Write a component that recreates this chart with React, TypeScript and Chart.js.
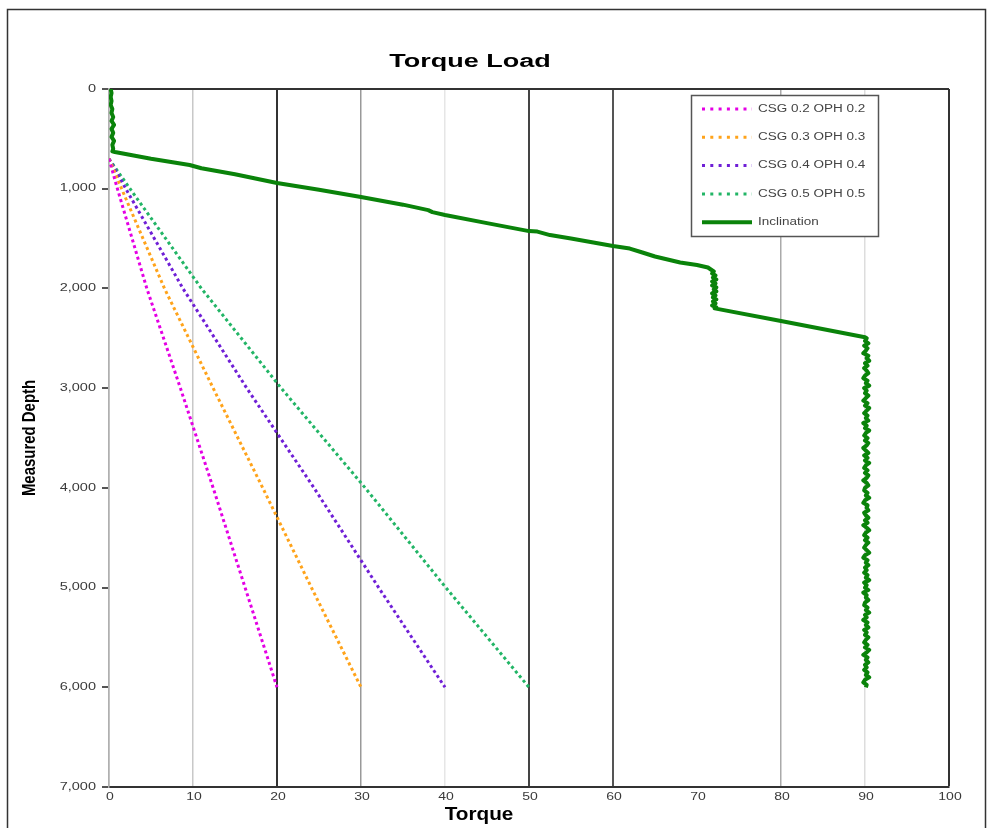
import React, { useEffect, useRef } from "react";
import { Chart, registerables } from "chart.js";

Chart.register(...registerables);

// ---------- data ----------
const chartTitle = "Torque Load";
const xAxisTitle = "Torque";
const yAxisTitle = "Measured Depth";

const seriesLabels = ["CSG 0.2 OPH 0.2", "CSG 0.3 OPH 0.3", "CSG 0.4 OPH 0.4", "CSG 0.5 OPH 0.5", "Inclination"];

const csgDepth = [700, 1000, 2000, 3000, 4000, 5000, 6000];
const csg02Torque = [0, 1.0, 4.5, 8.5, 12.4, 16.2, 20];
const csg03Torque = [0, 1.5, 6.6, 12.4, 18.3, 24.1, 30];
const csg04Torque = [0, 2.0, 8.8, 16.4, 24.4, 32.1, 40];
const csg05Torque = [0, 2.5, 11.0, 20.5, 30.5, 40.1, 50];

// Inclination: shallow / build section
const incUpperDepth = [
  0, 40, 80, 120, 160, 200, 240, 280, 320, 360, 400, 440, 480, 520, 560, 600, 625,
  632, 700, 762, 795, 855, 943, 1010, 1083, 1160, 1215, 1235, 1264, 1345, 1425, 1430, 1465, 1500, 1575, 1600, 1640, 1680, 1740, 1765, 1790, 1830,
  1850, 1870, 1890, 1910, 1930, 1950, 1970, 1990, 2010, 2030, 2050, 2070, 2090, 2110, 2130, 2150, 2170, 2190, 2200,
  2327, 2490,
];
const incUpperTorque = [
  0.2, 0.3, 0.2, 0.3, 0.2, 0.4, 0.3, 0.5, 0.3, 0.6, 0.3, 0.5, 0.3, 0.6, 0.4, 0.5, 0.4,
  0.7, 5, 9.6, 11, 15, 20, 25, 30, 35, 38, 38.5, 40, 45, 50, 51, 52.5, 55, 60, 62, 63.5, 65, 68, 70, 71.3, 72,
  71.8, 72.2, 71.9, 72.3, 71.8, 72.2, 71.8, 72.3, 72.0, 72.3, 71.8, 72.2, 71.9, 72.3, 71.9, 72.2, 71.8, 72.3, 72.1,
  80, 90,
];
// Inclination: horizontal section
const incLowerDepth = [
  2500, 2525, 2550, 2575, 2600, 2625, 2650, 2675, 2700, 2725,
  2750, 2775, 2800, 2825, 2850, 2875, 2900, 2925, 2950, 2975,
  3000, 3025, 3050, 3075, 3100, 3125, 3150, 3175, 3200, 3225,
  3250, 3275, 3300, 3325, 3350, 3375, 3400, 3425, 3450, 3475,
  3500, 3525, 3550, 3575, 3600, 3625, 3650, 3675, 3700, 3725,
  3750, 3775, 3800, 3825, 3850, 3875, 3900, 3925, 3950, 3975,
  4000, 4025, 4050, 4075, 4100, 4125, 4150, 4175, 4200, 4225,
  4250, 4275, 4300, 4325, 4350, 4375, 4400, 4425, 4450, 4475,
  4500, 4525, 4550, 4575, 4600, 4625, 4650, 4675, 4700, 4725,
  4750, 4775, 4800, 4825, 4850, 4875, 4900, 4925, 4950, 4975,
  5000, 5025, 5050, 5075, 5100, 5125, 5150, 5175, 5200, 5225,
  5250, 5275, 5300, 5325, 5350, 5375, 5400, 5425, 5450, 5475,
  5500, 5525, 5550, 5575, 5600, 5625, 5650, 5675, 5700, 5725,
  5750, 5775, 5800, 5825, 5850, 5875, 5900, 5925, 5950, 5975,
  6000,
];
const incLowerTorque = [
  90.2, 90.0, 90.4, 89.9, 90.3, 90.1, 89.8, 90.4, 90.2, 90.5,
  90.0, 90.3, 89.9, 90.2, 90.4, 90.0, 89.8, 90.3, 90.1, 90.5,
  89.9, 90.2, 90.0, 90.4, 90.1, 89.8, 90.3, 90.0, 90.5, 90.2,
  89.9, 90.3, 90.1, 90.4, 89.8, 90.2, 90.0, 90.5, 90.1, 89.9,
  90.3, 90.0, 90.4, 90.2, 89.8, 90.1, 90.4, 89.9, 90.3, 90.0,
  90.5, 90.1, 89.9, 90.3, 90.0, 90.4, 90.2, 89.8, 90.2, 90.4,
  90.0, 89.9, 90.3, 90.1, 90.5, 90.0, 89.8, 90.3, 90.2, 90.4,
  89.9, 90.1, 90.4, 90.0, 90.3, 89.8, 90.2, 90.5, 90.1, 89.9,
  90.3, 90.0, 90.4, 90.1, 89.9, 90.2, 90.5, 90.0, 89.8, 90.3,
  90.1, 90.4, 90.0, 90.2, 89.9, 90.3, 90.1, 90.5, 89.9, 90.2,
  90.0, 90.4, 89.8, 90.2, 90.1, 90.4, 90.0, 89.9, 90.3, 90.1,
  90.5, 90.0, 90.2, 89.8, 90.3, 90.1, 90.4, 89.9, 90.2, 90.0,
  90.4, 90.1, 89.9, 90.3, 90.0, 90.5, 90.2, 89.8, 90.3, 90.1,
  90.4, 90.0, 90.2, 89.9, 90.3, 90.1, 90.5, 90.0, 89.8, 90.2,
  90.1,
];

// ---------- styles ----------
const seriesColors = ["#e400e4", "#ffa31a", "#6f1fd6", "#22b566", "#0a830a"];
const xGridColors = ["#b0b0b0", "#c8c8c8", "#333333", "#999999", "#e6e6e6", "#444444", "#555555", "rgba(0,0,0,0)", "#aaaaaa", "#dddddd", "#333333"];
const FONT = "Arial, 'Liberation Sans', sans-serif";

function pairs(xs: number[], ys: number[]) {
  return xs.map((x, i) => ({ x, y: ys[i] }));
}

function sText(ctx: CanvasRenderingContext2D, text: string, x: number, y: number, sx: number, align: CanvasTextAlign) {
  ctx.save();
  ctx.translate(x, y);
  ctx.scale(sx, 1);
  ctx.textAlign = align;
  ctx.fillText(text, 0, 0);
  ctx.restore();
}

const nf = new Intl.NumberFormat("en-US");

const decorPlugin = {
  id: "decor",
  beforeDraw(chart: any) {
    const ctx: CanvasRenderingContext2D = chart.ctx;
    ctx.save();
    ctx.fillStyle = "#ffffff";
    ctx.fillRect(0, 0, chart.width, chart.height);
    ctx.strokeStyle = "#333333";
    ctx.lineWidth = 1.5;
    ctx.beginPath();
    ctx.moveTo(7.5, chart.height);
    ctx.lineTo(7.5, 9.5);
    ctx.lineTo(985.5, 9.5);
    ctx.lineTo(985.5, chart.height);
    ctx.stroke();
    ctx.restore();
  },
  afterDraw(chart: any) {
    const ctx: CanvasRenderingContext2D = chart.ctx;
    const xs = chart.scales.x;
    const ys = chart.scales.y;
    const area = chart.chartArea;
    ctx.save();

    // tick labels
    ctx.fillStyle = "#3a3a3a";
    ctx.font = `10px ${FONT}`;
    ctx.textBaseline = "middle";
    ys.ticks.forEach((t: any) => {
      const py = ys.getPixelForValue(t.value);
      sText(ctx, nf.format(t.value), area.left - 13, py, 1.45, "right");
    });
    xs.ticks.forEach((t: any) => {
      const px = xs.getPixelForValue(t.value);
      sText(ctx, nf.format(t.value), px + 1, area.bottom + 10, 1.4, "center");
    });

    // titles
    ctx.fillStyle = "#000000";
    ctx.textBaseline = "alphabetic";
    ctx.font = `bold 18px ${FONT}`;
    sText(ctx, chartTitle, 470, 67, 1.5, "center");
    sText(ctx, xAxisTitle, 479, 820, 1.15, "center");
    ctx.save();
    ctx.translate(35, (area.top + area.bottom) / 2);
    ctx.rotate(-Math.PI / 2);
    ctx.scale(0.83, 1);
    ctx.textAlign = "center";
    ctx.fillText(yAxisTitle, 0, 0);
    ctx.restore();

    // legend
    const bx = area.right - 258;
    const by = area.top + 6;
    ctx.fillStyle = "#ffffff";
    ctx.fillRect(bx, by, 187, 141);
    ctx.strokeStyle = "#555555";
    ctx.lineWidth = 1.5;
    ctx.strokeRect(bx + 0.5, by + 0.5, 187, 141);
    const entries = chart.data.datasets.filter((ds: any) => !ds.hideInLegend);
    entries.forEach((ds: any, i: number) => {
      const ry = by + 14 + i * 28.3;
      const dotted = ds.borderDash && ds.borderDash.length;
      ctx.save();
      ctx.strokeStyle = ds.borderColor;
      ctx.lineWidth = dotted ? 3 : 4;
      ctx.setLineDash(dotted ? [3, 5.3] : []);
      ctx.beginPath();
      ctx.moveTo(bx + 11, ry);
      ctx.lineTo(bx + 61, ry);
      ctx.stroke();
      ctx.restore();
      ctx.fillStyle = "#444444";
      ctx.font = `10px ${FONT}`;
      ctx.textBaseline = "middle";
      sText(ctx, ds.label, bx + 67, ry, 1.35, "left");
    });
    ctx.restore();
  },
};

export default function App() {
  const ref = useRef<HTMLCanvasElement | null>(null);

  useEffect(() => {
    if (!ref.current) return;
    const csgSets = [csg02Torque, csg03Torque, csg04Torque, csg05Torque].map((arr, i) => ({
      label: seriesLabels[i],
      data: pairs(arr, csgDepth),
      borderColor: seriesColors[i],
      backgroundColor: seriesColors[i],
      borderWidth: 3,
      borderDash: [3, 3],
      showLine: true,
      pointRadius: 0,
      fill: false,
    }));
    const incData = [...pairs(incUpperTorque, incUpperDepth), ...pairs(incLowerTorque, incLowerDepth)];
    const chart = new Chart(ref.current, {
      type: "scatter",
      data: {
        datasets: [
          ...csgSets,
          {
            label: seriesLabels[4],
            data: incData,
            borderColor: seriesColors[4],
            backgroundColor: seriesColors[4],
            borderWidth: 4,
            borderDash: [],
            borderJoinStyle: "round",
            showLine: true,
            pointRadius: 0,
            fill: false,
          } as any,
        ],
      },
      options: {
        responsive: false,
        animation: false,
        devicePixelRatio: 1,
        layout: { padding: { left: 0, top: 89, right: 43, bottom: 0 } },
        plugins: {
          legend: { display: false },
          title: { display: false },
          tooltip: { enabled: false },
        },
        scales: {
          x: {
            type: "linear",
            position: "bottom",
            min: 0,
            max: 100,
            ticks: { stepSize: 10, display: false },
            grid: {
              color: (c: any) => xGridColors[Math.round((c.tick ? c.tick.value : 0) / 10)] || "rgba(0,0,0,0)",
              lineWidth: (c: any) => {
                const v = c.tick ? c.tick.value : 0;
                return v === 20 || v === 50 || v === 60 || v === 100 ? 2 : 1.5;
              },
              drawTicks: false,
            },
            border: { color: "#333333", width: 2 },
            afterFit: (s: any) => {
              s.height = 41;
            },
          },
          y: {
            type: "linear",
            reverse: true,
            min: 0,
            max: 7000,
            ticks: { stepSize: 1000, display: false },
            grid: {
              color: (c: any) => {
                const v = c.tick ? c.tick.value : -1;
                return v === 0 || v === 7000 ? "#333333" : "rgba(0,0,0,0)";
              },
              lineWidth: 2,
              tickColor: "#555555",
              tickLength: 7,
              drawTicks: true,
            },
            border: { color: "#b0b0b0", width: 1.5 },
            afterFit: (s: any) => {
              s.width = 109;
            },
          },
        },
      } as any,
      plugins: [decorPlugin as any],
    });
    return () => chart.destroy();
  }, []);

  return (
    <div style={{ position: "absolute", left: 0, top: 0, width: 992, height: 828 }}>
      <canvas ref={ref} width={992} height={828} style={{ display: "block" }} />
    </div>
  );
}
